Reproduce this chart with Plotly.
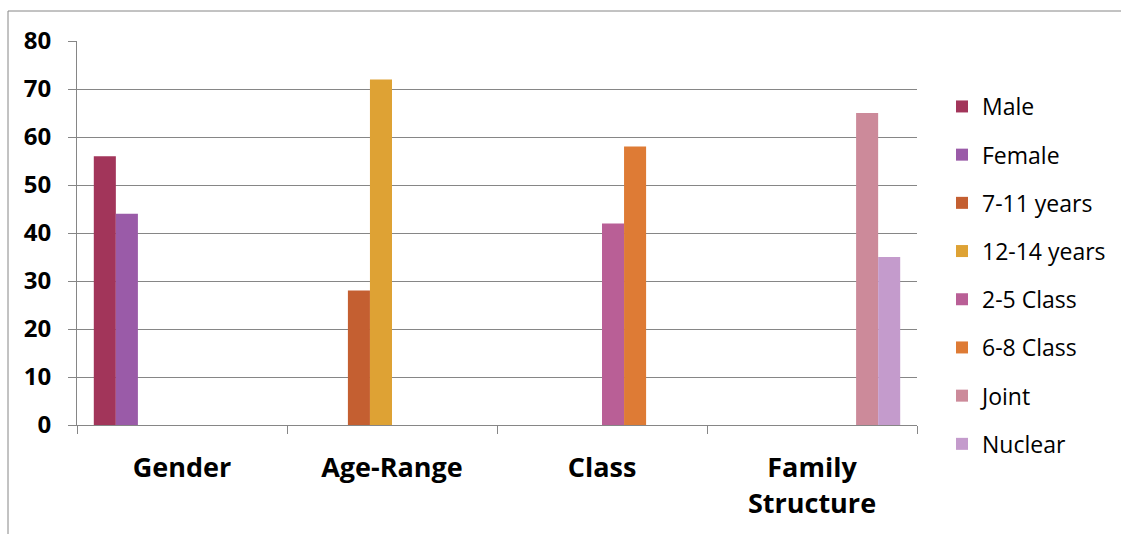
import plotly.graph_objects as go

# Survey profile of respondents, grouped by attribute
categories = ["Gender", "Age-Range", "Class", "Family<br>Structure"]

series_names = ["Male", "Female", "7-11 years", "12-14 years",
                "2-5 Class", "6-8 Class", "Joint", "Nuclear"]

male = [56, None, None, None]
female = [44, None, None, None]
age_7_11 = [None, 28, None, None]
age_12_14 = [None, 72, None, None]
class_2_5 = [None, None, 42, None]
class_6_8 = [None, None, 58, None]
joint = [None, None, None, 65]
nuclear = [None, None, None, 35]

series_values = [male, female, age_7_11, age_12_14,
                 class_2_5, class_6_8, joint, nuclear]

colors = ["#A2355A", "#9A5BA8", "#C45F31", "#DEA234",
          "#B95F96", "#DE7B35", "#CC8A9A", "#C49BCC"]

FONT = "Open Sans"
GREY = "#868686"

fig = go.Figure()
for name, vals, col in zip(series_names, series_values, colors):
    fig.add_trace(go.Bar(
        name=name, x=categories, y=vals,
        marker=dict(color=col, line=dict(width=0)),
        legendgroup=name,
    ))

# plot-area geometry in pixels
W, H = 1121, 534
L, R, T, B = 77, 917, 41, 425
pw, ph = R - L, B - T


def px_x(x):
    return (x - L) / pw


def px_y(y):
    return (B - y) / ph


fig.update_layout(
    width=W, height=H,
    margin=dict(l=L, r=W - R, t=T, b=H - B, pad=0, autoexpand=False),
    paper_bgcolor="white", plot_bgcolor="white",
    barmode="group", bargap=0.16, bargroupgap=0,
    font=dict(family=FONT, color="#000000"),
    legend=dict(
        xref="container", yref="container",
        x=942 / W, y=1 - 85 / H, xanchor="left", yanchor="top",
        font=dict(family=FONT, size=23, color="#000000"),
        tracegroupgap=15.3, itemwidth=30, bgcolor="rgba(0,0,0,0)",
        maxheight=520,
    ),
    xaxis=dict(
        type="category", showline=True, linecolor=GREY, linewidth=1,
        ticks="outside", tickson="boundaries", ticklen=8, tickcolor=GREY,
        tickfont=dict(family=FONT, size=27, color="#000000", weight="bold"),
        ticklabelstandoff=19,
        showgrid=False, fixedrange=True,
    ),
    yaxis=dict(
        range=[0, 80], dtick=10, showline=True, linecolor=GREY, linewidth=1,
        ticks="outside", ticklen=8, tickcolor=GREY,
        showgrid=True, gridcolor=GREY, gridwidth=1, zeroline=False,
        tickfont=dict(family=FONT, size=24, color="#000000", weight="bold"),
        ticklabelstandoff=12, fixedrange=True,
    ),
    shapes=[
        # chart frame (top and left edges)
        dict(type="line", xref="paper", yref="paper",
             x0=px_x(8), x1=px_x(W + 5), y0=px_y(11), y1=px_y(11),
             line=dict(color=GREY, width=1)),
        dict(type="line", xref="paper", yref="paper",
             x0=px_x(8), x1=px_x(8), y0=px_y(11), y1=px_y(H + 5),
             line=dict(color=GREY, width=1)),
    ],
)

fig.write_html("out.html")
